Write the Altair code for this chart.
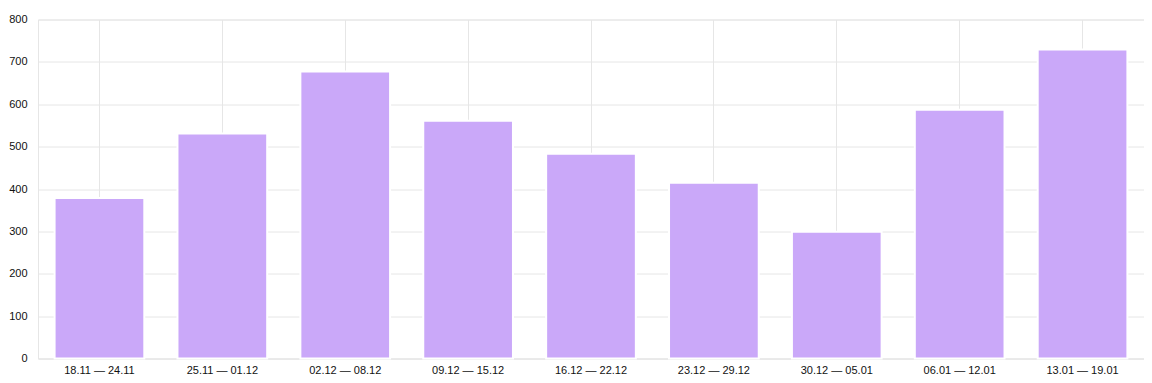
import altair as alt
import pandas as pd

weeks = ["18.11 — 24.11", "25.11 — 01.12", "02.12 — 08.12", "09.12 — 15.12",
         "16.12 — 22.12", "23.12 — 29.12", "30.12 — 05.01", "06.01 — 12.01",
         "13.01 — 19.01"]
values = [379, 531, 677, 561, 483, 415, 299, 587, 729]

df = pd.DataFrame({"week": weeks, "value": values})

grid_color = "#e6e6e6"
font = "Liberation Sans"

chart = alt.Chart(df).mark_bar(
    color="#caa8f9", stroke="white", strokeWidth=2
).encode(
    x=alt.X("week:N", sort=weeks, title=None,
            scale=alt.Scale(paddingInner=0.27, paddingOuter=0.135),
            axis=alt.Axis(labelAngle=0, grid=True, bandPosition=0.5, ticks=False,
                          domainColor=grid_color, gridColor=grid_color,
                          labelFont=font, labelFontSize=11, labelColor="#111",
                          labelPadding=6)),
    y=alt.Y("value:Q", title=None,
            scale=alt.Scale(domain=[0, 800]),
            axis=alt.Axis(values=[0, 100, 200, 300, 400, 500, 600, 700, 800],
                          ticks=False, domainColor=grid_color, gridColor=grid_color,
                          labelFont=font, labelFontSize=11, labelColor="#111",
                          labelPadding=11)),
).properties(
    width=1106, height=339,
    autosize=alt.AutoSizeParams(type="none"),
    padding={"left": 30, "top": 11.5, "right": 0, "bottom": 16},
).configure_view(stroke=grid_color)

chart.save("out.html", embed_options={"renderer": "svg", "actions": False})
